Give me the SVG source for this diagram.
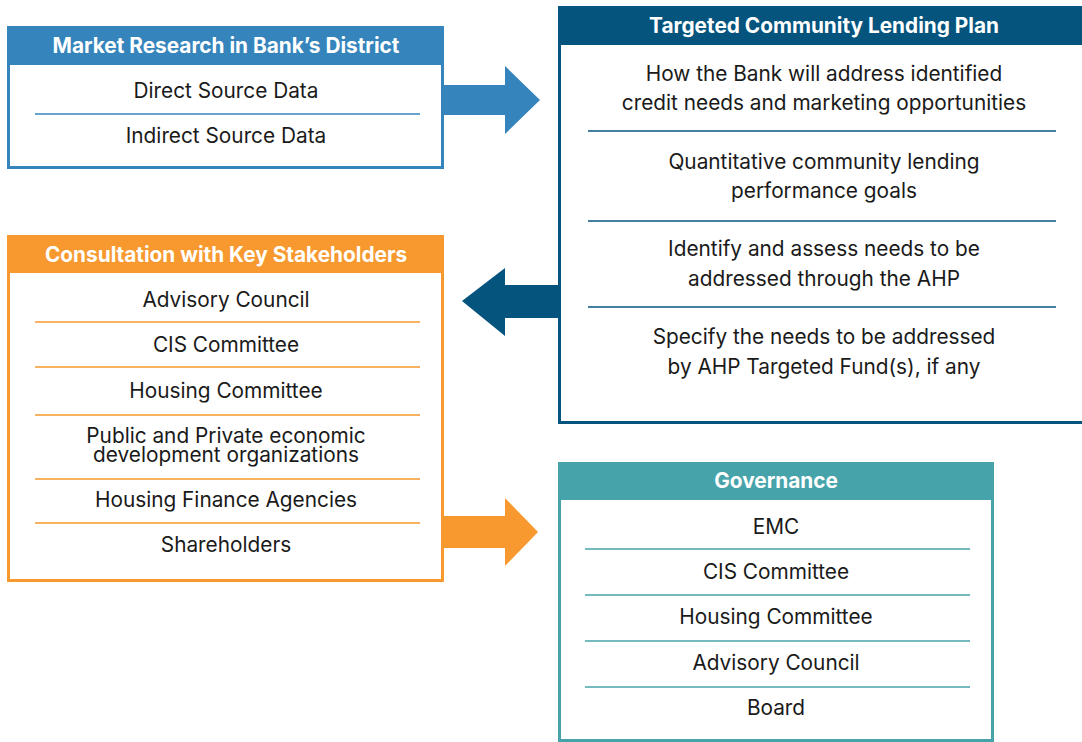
<svg xmlns="http://www.w3.org/2000/svg" width="1082" height="742" viewBox="0 0 1082 742">
<style>
.t{font-family:Inter,"Liberation Sans",sans-serif;font-size:20.8px;fill:#1a1a1a;text-anchor:middle}
.h{font-family:Inter,"Liberation Sans",sans-serif;font-size:20.8px;font-weight:700;fill:#fff;text-anchor:middle}
.box{fill:#fff;stroke-width:3}
</style>
<rect width="1082" height="742" fill="#fff"/>
<g id="connectors">
<polygon points="443,85 505,85 505,66 540,100 505,134 505,115 443,115" fill="#3585BC"/>
<polygon points="558,285 505,285 505,268 462,301 505,336 505,318 558,318" fill="#04547E"/>
<polygon points="443,516 505,516 505,498 538,532 505,566 505,548 443,548" fill="#F7992E"/>
</g>
<g id="market">
<rect class="box" x="8.5" y="27.5" width="434" height="140" stroke="#3585BC"/>
<rect x="8" y="27" width="435" height="38" fill="#3585BC"/>
<text class="h" x="226" y="53">Market Research in Bank’s District</text>
<text class="t" x="226" y="98">Direct Source Data</text>
<line x1="35" y1="114" x2="420" y2="114" stroke="#3585BC" stroke-width="1.5"/>
<text class="t" x="226" y="143">Indirect Source Data</text>
</g>
<g id="plan">
<rect class="box" x="559.5" y="7.5" width="530" height="415" stroke="#04547E"/>
<rect x="558" y="6" width="530" height="39" fill="#04547E"/>
<text class="h" x="824" y="33">Targeted Community Lending Plan</text>
<text class="t" x="824" y="81">How the Bank will address identified</text>
<text class="t" x="824" y="110">credit needs and marketing opportunities</text>
<line x1="588" y1="131" x2="1056" y2="131" stroke="#04547E" stroke-width="1.5"/>
<text class="t" x="824" y="169">Quantitative community lending</text>
<text class="t" x="824" y="198">performance goals</text>
<line x1="588" y1="221" x2="1056" y2="221" stroke="#04547E" stroke-width="1.5"/>
<text class="t" x="824" y="256">Identify and assess needs to be</text>
<text class="t" x="824" y="286">addressed through the AHP</text>
<line x1="588" y1="307" x2="1056" y2="307" stroke="#04547E" stroke-width="1.5"/>
<text class="t" x="824" y="344">Specify the needs to be addressed</text>
<text class="t" x="824" y="374">by AHP Targeted Fund(s), if any</text>
</g>
<g id="consult">
<rect class="box" x="8.5" y="236.5" width="434" height="344" stroke="#F7992E"/>
<rect x="8" y="236" width="435" height="37" fill="#F7992E"/>
<text class="h" x="226" y="262">Consultation with Key Stakeholders</text>
<text class="t" x="226" y="307">Advisory Council</text>
<line x1="35" y1="322" x2="420" y2="322" stroke="#F7992E" stroke-width="1.5"/>
<text class="t" x="226" y="352">CIS Committee</text>
<line x1="35" y1="367" x2="420" y2="367" stroke="#F7992E" stroke-width="1.5"/>
<text class="t" x="226" y="398">Housing Committee</text>
<line x1="35" y1="415" x2="420" y2="415" stroke="#F7992E" stroke-width="1.5"/>
<text class="t" x="226" y="443">Public and Private economic</text>
<text class="t" x="226" y="462">development organizations</text>
<line x1="35" y1="479" x2="420" y2="479" stroke="#F7992E" stroke-width="1.5"/>
<text class="t" x="226" y="507">Housing Finance Agencies</text>
<line x1="35" y1="523" x2="420" y2="523" stroke="#F7992E" stroke-width="1.5"/>
<text class="t" x="226" y="552">Shareholders</text>
</g>
<g id="governance">
<rect class="box" x="559.5" y="463.5" width="433" height="277" stroke="#46A3AA"/>
<rect x="558" y="462" width="435" height="38" fill="#46A3AA"/>
<text class="h" x="776" y="488">Governance</text>
<text class="t" x="776" y="534">EMC</text>
<line x1="585" y1="549" x2="970" y2="549" stroke="#46A3AA" stroke-width="1.5"/>
<text class="t" x="776" y="579">CIS Committee</text>
<line x1="585" y1="595" x2="970" y2="595" stroke="#46A3AA" stroke-width="1.5"/>
<text class="t" x="776" y="624">Housing Committee</text>
<line x1="585" y1="641" x2="970" y2="641" stroke="#46A3AA" stroke-width="1.5"/>
<text class="t" x="776" y="670">Advisory Council</text>
<line x1="585" y1="687" x2="970" y2="687" stroke="#46A3AA" stroke-width="1.5"/>
<text class="t" x="776" y="715">Board</text>
</g>
</svg>
